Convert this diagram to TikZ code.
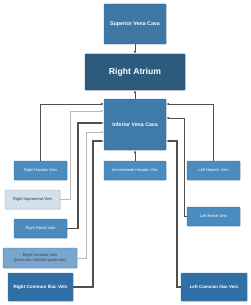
\documentclass[tikz,border=0pt]{standalone}
\usepackage{fontspec}
\setmainfont{Liberation Sans}
\usetikzlibrary{arrows.meta,shadows}
\definecolor{boxblue}{HTML}{4A8BC0}
\definecolor{boxedge}{HTML}{3A70A0}
\definecolor{svcblue}{HTML}{3E77A3}
\definecolor{rablue}{HTML}{2D5B7E}
\definecolor{ivcblue}{HTML}{3F7BA8}
\definecolor{lightbox}{HTML}{D3DFEA}
\definecolor{gonad}{HTML}{78A6CF}
\definecolor{iliac}{HTML}{3070A6}
\definecolor{darkline}{HTML}{505050}
\definecolor{lightline}{HTML}{B8B8B8}
\tikzset{
  vbox/.style={draw=boxedge, line width=0.4pt, fill=boxblue, text=white, align=center,
    inner sep=0pt, font=\fontsize{4}{4.6}\selectfont, rounded corners=0.6pt,
    drop shadow={shadow xshift=0.6pt, shadow yshift=-0.6pt, opacity=0.25}},
  conn/.style={darkline, line width=0.6pt, -{Latex[length=3pt,width=2.6pt]}},
  thick conn/.style={darkline, line width=1.1pt, -{Latex[length=3.2pt,width=3pt]}},
  light conn/.style={lightline, line width=0.6pt, -{Latex[length=3pt,width=2.6pt]}},
}
\begin{document}
\begin{tikzpicture}[x=1pt,y=-1pt]
\useasboundingbox (0,0) rectangle (250,305);
\node[vbox, fill=svcblue, minimum width=62pt, minimum height=40pt, font=\fontsize{5.3}{6}\bfseries] (svc) at (135,24) {Superior Vena Cava};
\node[vbox, fill=rablue, draw=rablue!80!black, minimum width=100pt, minimum height=36pt, font=\fontsize{8.6}{10}\bfseries] (ra) at (135,72) {Right Atrium};
\node[vbox, fill=ivcblue, minimum width=62pt, minimum height=51pt, font=\fontsize{5.2}{6}\bfseries] (ivc) at (135,124.5) {Inferior Vena Cava};
\node[vbox, minimum width=53pt, minimum height=19pt] (rhv) at (40.5,170.5) {Right Hepatic Vein};
\node[vbox, minimum width=62pt, minimum height=19pt] (ihv) at (135,170.5) {Intermediate Hepatic Vein};
\node[vbox, minimum width=53pt, minimum height=19pt] (lhv) at (213.5,170.5) {Left Hepatic Vein};
\node[vbox, fill=lightbox, draw=gray!70, text=black!80, minimum width=55pt, minimum height=19pt] (rsv) at (32.5,199.5) {Right Suprarenal Vein};
\node[vbox, minimum width=53pt, minimum height=19pt] (rrv) at (40.5,228.5) {Right Renal Vein};
\node[vbox, fill=gonad, minimum width=74pt, minimum height=20pt, text=black!75] (rgv) at (40,258) {Right Gonadal Vein\\(testicular, internal spermatic)};
\node[vbox, fill=iliac, minimum width=65pt, minimum height=28pt, font=\fontsize{4.6}{5}\bfseries] (rciv) at (40.5,287) {Right Common Iliac Vein};
\node[vbox, minimum width=53pt, minimum height=19pt] (lrv) at (213.5,216.5) {Left Renal Vein};
\node[vbox, fill=iliac, minimum width=66pt, minimum height=28pt, font=\fontsize{4.4}{5}\bfseries] (lciv) at (214,287) {Left Common Iliac Vein};
% trunk
\draw[conn] (svc.south) -- (ra.north);
\draw[conn] (ivc.north) -- (ra.south);
\draw[conn] (ihv.north) -- (ivc.south);
% right side
\draw[conn] (rhv.north) |- (ivc.west |- 0,104);
\draw[light conn] (rsv.east) -- (rsv.east -| 70,0) |- (ivc.west |- 0,111);
\draw[thick conn] (rrv.east) -- (rrv.east -| 78,0) |- (ivc.west |- 0,123);
\draw[light conn] (rgv.east) -- (rgv.east -| 86,0) |- (ivc.west |- 0,132);
\draw[thick conn] (rciv.east) -- (rciv.east -| 93,0) |- (ivc.west |- 0,141);
% left side
\draw[conn] (lhv.north) |- (ivc.east |- 0,104);
\draw[conn] (lrv.west) -- (lrv.west -| 184,0) |- (ivc.east |- 0,118);
\draw[thick conn] (lciv.west) -- (lciv.west -| 177,0) |- (ivc.east |- 0,141);
\end{tikzpicture}
\end{document}
